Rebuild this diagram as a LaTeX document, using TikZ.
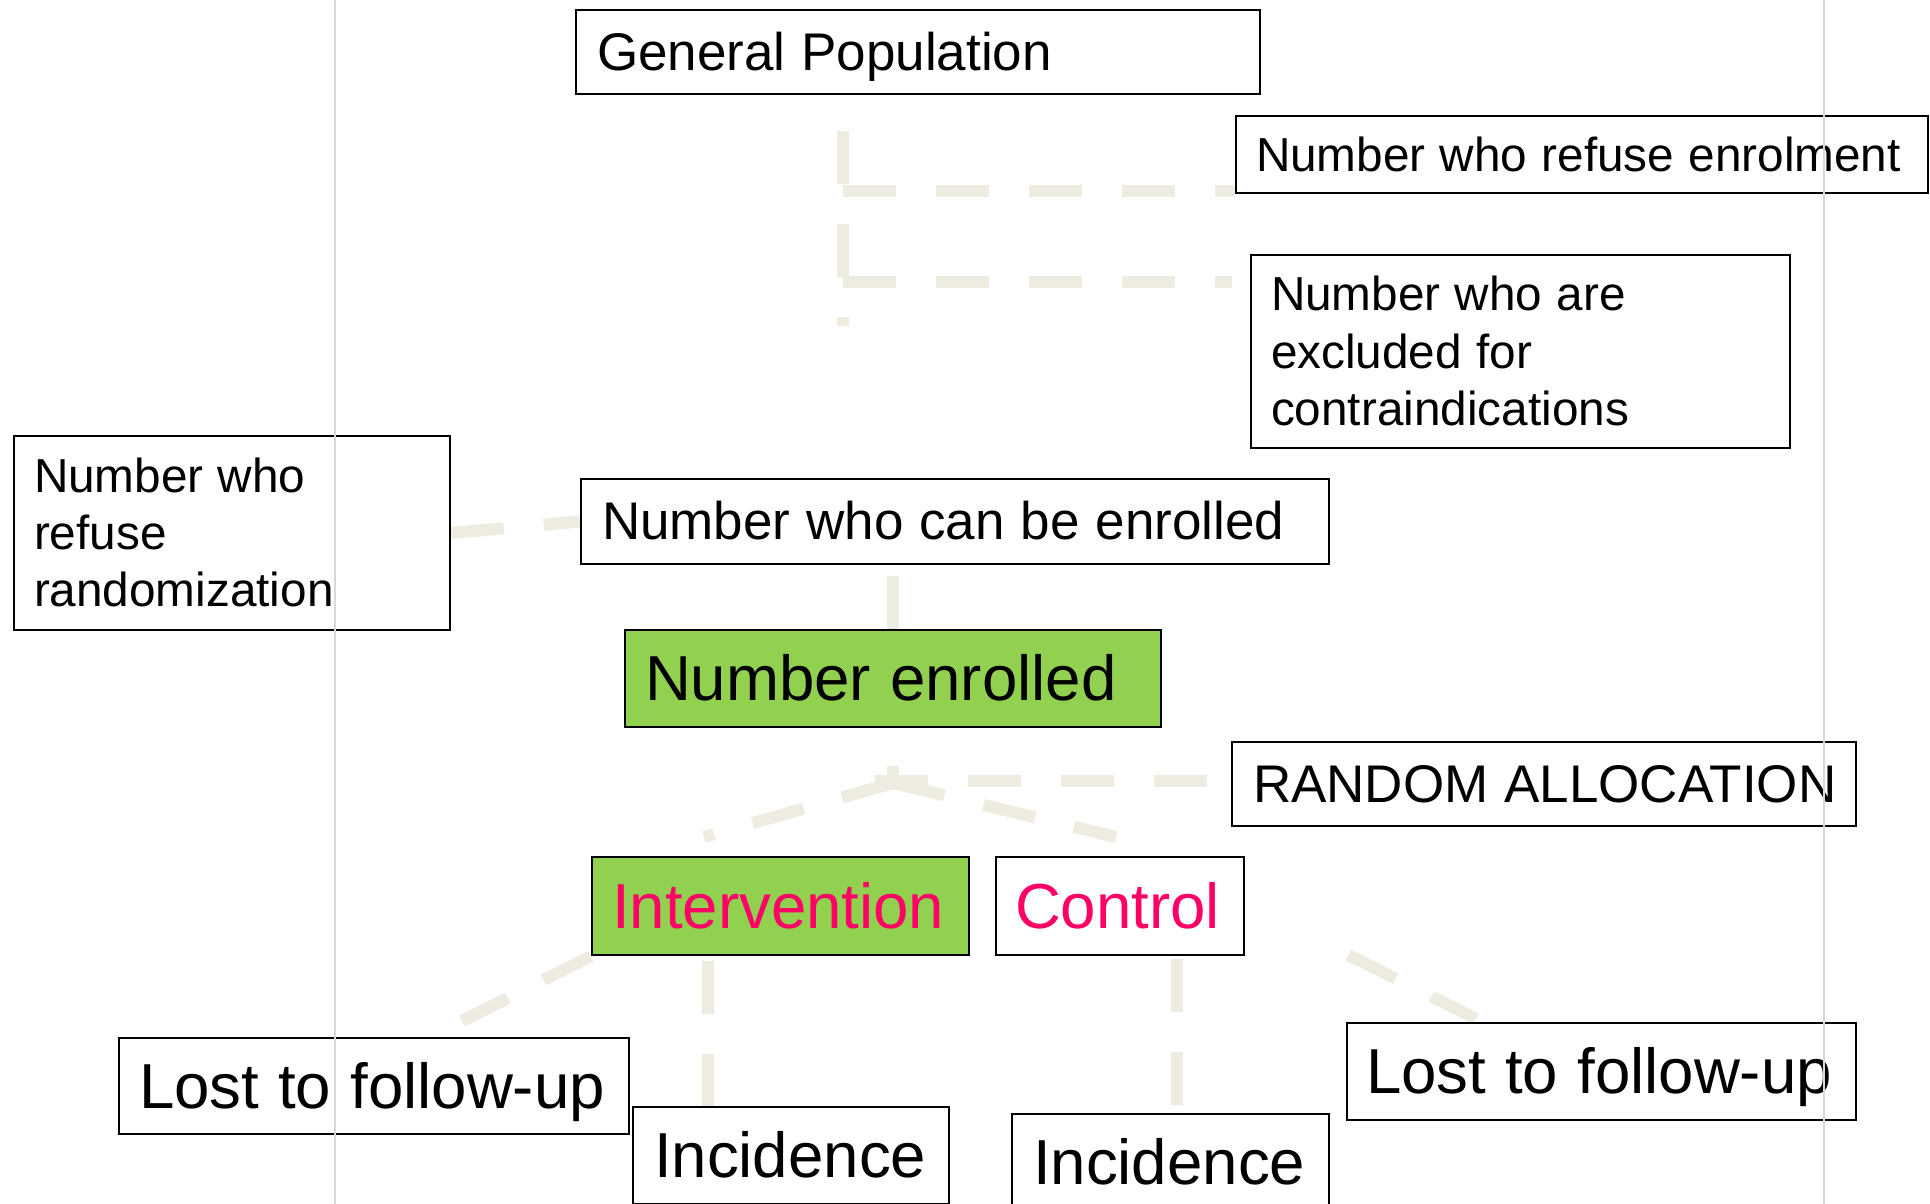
\documentclass[tikz,border=0pt]{standalone}
\usepackage{fontspec}
\setmainfont{Liberation Sans}
\usetikzlibrary{calc}
\definecolor{pgreen}{HTML}{92D050}
\definecolor{ppink}{HTML}{FF0066}
\definecolor{cline}{HTML}{EEECE1}
\definecolor{guideline}{HTML}{D9D9D9}
\newcommand\ppstrut{\rule[-0.212em]{0pt}{1.117em}}
\newcommand\ppspace{\spaceskip=0.3em plus 0.1em minus 0.05em\relax\xspaceskip=0.3em\relax}
\pgfdeclarelayer{bg}
\pgfsetlayers{bg,main}
\begin{document}
\begin{tikzpicture}[x=1pt,y=-1pt,
  box/.style={draw=black, line width=2.2pt, fill=white, inner ysep=0pt, align=left},
  fsa/.style={font=\fontsize{47.7}{57.3}\selectfont},
  fsb/.style={font=\fontsize{53}{63.6}\selectfont},
  fsc/.style={font=\fontsize{63.6}{76.3}\selectfont},
  conn/.style={draw=cline, line width=12pt, dash pattern=on 53pt off 40pt},
  guide/.style={draw=guideline, line width=2pt}]
\useasboundingbox (0,0) rectangle (1930,1204);
\begin{pgfonlayer}{bg}
\fill[white] (0,0) rectangle (1930,1204);
\end{pgfonlayer}

% boxes
\node[box, fsb, minimum width=684pt, minimum height=84pt, text width=642pt, inner xsep=21pt] (ge) at (918,52) {\ppspace\mbox{\ppstrut General Population}};
\node[box, fsa, minimum width=692pt, minimum height=77pt, text width=652pt, inner xsep=20pt] (re) at (1582,154.5) {\ppspace\mbox{\ppstrut Number who refuse enrolment}};
\node[box, fsa, minimum width=539pt, minimum height=193pt, text width=499pt, inner xsep=20pt] (ex) at (1520.5,351.5) {\ppspace\ppstrut Number who are\\\ppstrut excluded for\\\ppstrut contraindications};
\node[box, fsa, minimum width=436pt, minimum height=194pt, text width=396pt, inner xsep=20pt] (rr) at (232,533) {\ppspace\ppstrut Number who\\\ppstrut refuse\\\ppstrut randomization};
\node[box, fsb, minimum width=748pt, minimum height=85pt, text width=706pt, inner xsep=21pt] (ce) at (955,521.5) {\ppspace\mbox{\ppstrut Number who can be enrolled}};
\node[box, fsc, fill=pgreen, minimum width=536pt, minimum height=97pt, text width=496pt, inner xsep=20pt] (ne) at (893,678.5) {\ppspace\mbox{\ppstrut Number enrolled}};
\node[box, fsb, minimum width=624pt, minimum height=84pt, text width=582pt, inner xsep=21pt] (ra) at (1544,784) {\ppspace\mbox{\ppstrut RANDOM ALLOCATION}};
\node[box, fsc, fill=pgreen, text=ppink, minimum width=377pt, minimum height=98pt, text width=337pt, inner xsep=20pt] (iv) at (780.5,906) {\ppspace\mbox{\ppstrut Intervention}};
\node[box, fsc, text=ppink, minimum width=248pt, minimum height=98pt, text width=210pt, inner xsep=19pt] (ct) at (1120,906) {\ppspace\mbox{\ppstrut Control}};
\node[box, fsc, minimum width=510pt, minimum height=96pt, text width=470pt, inner xsep=20pt] (ll) at (374,1086) {\ppspace\mbox{\ppstrut Lost to follow-up}};
\node[box, fsc, minimum width=316pt, minimum height=97pt, text width=274pt, inner xsep=21pt] (il) at (791,1155.5) {\ppspace\mbox{\ppstrut Incidence}};
\node[box, fsc, minimum width=317pt, minimum height=97pt, text width=275pt, inner xsep=21pt] (ir) at (1170.5,1162.5) {\ppspace\mbox{\ppstrut Incidence}};
\node[box, fsc, minimum width=509pt, minimum height=97pt, text width=471pt, inner xsep=19pt] (lr) at (1601.5,1071.5) {\ppspace\mbox{\ppstrut Lost to follow-up}};

% connector coordinates
\coordinate (gpb) at (843,94);
\coordinate (gpe) at (843,326);
\coordinate (b1) at (843,191);
\coordinate (b2) at (843,282);
\coordinate (j) at (893,783);
\coordinate (hs) at (875,781);
\coordinate (jl) at (704,837);
\coordinate (jr) at (1116,837);
\coordinate (lle) at (462,1021);
\coordinate (ivx) at (708,0);
\coordinate (irx) at (1177,0);
\coordinate (cr0) at (1348,955);
\coordinate (lre) at (1476,1019);

\begin{pgfonlayer}{bg}
\draw[conn, dash phase=56pt] (gpb) -- (gpe);
\draw[conn] (b1) -- (b1 -| re.west);
\draw[conn] (b2) -- ([xshift=-18pt]b2 -| ex.west);
\draw[conn] (rr.east) -- (ce.west);
\draw[conn] (ne.north) -- (ne.north |- ce.south);
\draw[conn, dash phase=36pt] (j) -- (ne.south);
\draw[conn] (hs) -- (hs -| ra.west);
\draw[conn] (j) -- (jl);
\draw[conn] (j) -- (jr);
\draw[conn] (iv.south west) -- (lle);
\draw[conn, dash phase=88pt] (iv.south -| ivx) -- (il.north -| ivx);
\draw[conn, dash phase=90pt] (ct.south -| irx) -- (ir.north -| irx);
\draw[conn] (cr0) -- (lre);
\end{pgfonlayer}

% guide lines
\draw[guide] (335,0) -- (335,1204);
\draw[guide] (1824,0) -- (1824,1204);
\end{tikzpicture}
\end{document}
